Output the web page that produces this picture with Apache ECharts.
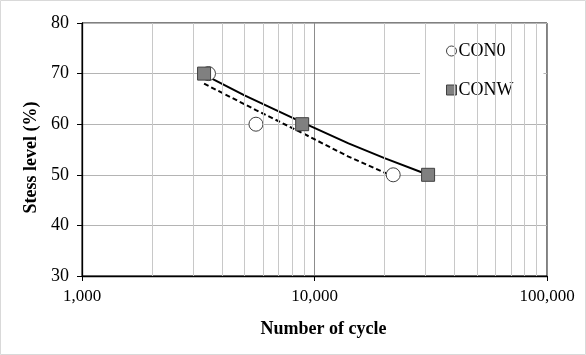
<!DOCTYPE html>
<html>
<head>
<meta charset="utf-8">
<script src="https://cdn.jsdelivr.net/npm/echarts@6/dist/echarts.min.js"></script>
<style>html,body{margin:0;padding:0;background:#fff}#c{width:586px;height:355px}</style>
</head>
<body>
<div id="c"></div>
<script>
// Data
const con0Cycles = [3500, 5600, 21800];
const con0Stress = [70, 60, 50];
const conwCycles = [3350, 8850, 30800];
const conwStress = [70, 60, 50];
// Trend lines
const con0TrendCycles = [3350, 5600, 9000, 14000, 20300];
const con0TrendStress = [68.0, 62.8, 58.1, 53.6, 50.3];
const conwTrendCycles = [3350, 5000, 9000, 14000, 20000, 30800];
const conwTrendStress = [69.8, 65.7, 60.2, 56.2, 53.3, 50.0];
// Axis ticks
const xMajor = [1000, 10000, 100000];
const xMinor = [2000, 3000, 4000, 5000, 6000, 7000, 8000, 9000, 20000, 30000, 40000, 50000, 60000, 70000, 80000, 90000];
const yTicks = [30, 40, 50, 60, 70, 80];

const zip = (a, b) => a.map((v, i) => [v, b[i]]);
const font = '"Liberation Serif", "Times New Roman", serif';

const chart = echarts.init(document.getElementById('c'), null, {renderer: 'canvas'});
chart.setOption({
  animation: false,
  backgroundColor: '#fff',
  textStyle: {fontFamily: font, color: '#000'},
  grid: {left: 82, right: 39, top: 23, bottom: 79, show: true, borderColor: '#000', borderWidth: 1},
  graphic: [{type: 'rect', shape: {x: 0.5, y: 0.5, width: 585, height: 354}, style: {fill: 'none', stroke: '#d9d9d9', lineWidth: 1}, silent: true}],
  xAxis: {
    type: 'log', logBase: 10, min: xMajor[0], max: xMajor[xMajor.length - 1],
    name: 'Number of cycle', nameLocation: 'middle', nameGap: 44,
    nameTextStyle: {fontFamily: font, fontSize: 18, fontWeight: 'bold', color: '#000', padding: [0, 0, 0, 18]},
    axisLine: {show: true, onZero: false, lineStyle: {color: '#000', width: 1.3}},
    axisTick: {show: true, length: 5, lineStyle: {color: '#000'}},
    axisLabel: {fontFamily: font, fontSize: 17, color: '#000', margin: 12,
      formatter: v => Number(v).toLocaleString('en-US')},
    splitLine: {show: true, lineStyle: {color: '#8c8c8c', width: 1}},
    minorTick: {show: false}, minorSplitLine: {show: false}
  },
  yAxis: {
    type: 'value', min: yTicks[0], max: yTicks[yTicks.length - 1], interval: 10,
    name: 'Stess level (%)', nameLocation: 'middle', nameGap: 38, nameRotate: 90,
    nameTextStyle: {fontFamily: font, fontSize: 18, fontWeight: 'bold', color: '#000', padding: [0, 16, 0, 0]},
    axisLine: {show: true, lineStyle: {color: '#000', width: 1.3}},
    axisTick: {show: true, length: 5, lineStyle: {color: '#000'}},
    axisLabel: {fontFamily: font, fontSize: 18, color: '#000', margin: 13},
    splitLine: {show: true, lineStyle: {color: '#b4b4b4', width: 1}}
  },
  legend: {
    orient: 'vertical', left: 420, top: 33,
    backgroundColor: '#fff', padding: [9, 30, 9, 26], itemGap: 21,
    itemWidth: 10, itemHeight: 10, itemStyle: {borderColor: '#404040', borderWidth: 1},
    textStyle: {fontFamily: font, fontSize: 18, color: '#000', padding: [0, 0, 0, -3]},
    data: [
      {name: 'CON0', icon: 'circle', itemStyle: {color: '#fff', borderColor: '#404040'}},
      {name: 'CONW', icon: 'rect', itemStyle: {color: '#808080', borderColor: '#404040'}}
    ]
  },
  series: [
    {
      name: 'minorGrid', type: 'line', data: [], silent: true, z: 1,
      markLine: {silent: true, symbol: 'none', label: {show: false},
        lineStyle: {color: '#c8c8c8', width: 1, type: 'solid'},
        data: xMinor.map(v => ({xAxis: v}))}
    },
    {
      name: 'CON0 trend', type: 'line', data: zip(con0TrendCycles, con0TrendStress), smooth: false,
      symbol: 'none', lineStyle: {color: '#000', width: 2, type: [5, 3]}, z: 3, silent: true
    },
    {
      name: 'CONW trend', type: 'line', data: zip(conwTrendCycles, conwTrendStress), smooth: false,
      symbol: 'none', lineStyle: {color: '#000', width: 2}, z: 3, silent: true
    },
    {
      name: 'CON0', type: 'scatter', data: zip(con0Cycles, con0Stress), symbol: 'circle', symbolSize: 14,
      itemStyle: {color: '#fff', borderColor: '#404040', borderWidth: 1, opacity: 1}, z: 4
    },
    {
      name: 'CONW', type: 'scatter', data: zip(conwCycles, conwStress), symbol: 'rect', symbolSize: 13,
      itemStyle: {color: '#808080', borderColor: '#404040', borderWidth: 1, opacity: 1}, z: 5
    }
  ]
});
</script>
</body>
</html>
